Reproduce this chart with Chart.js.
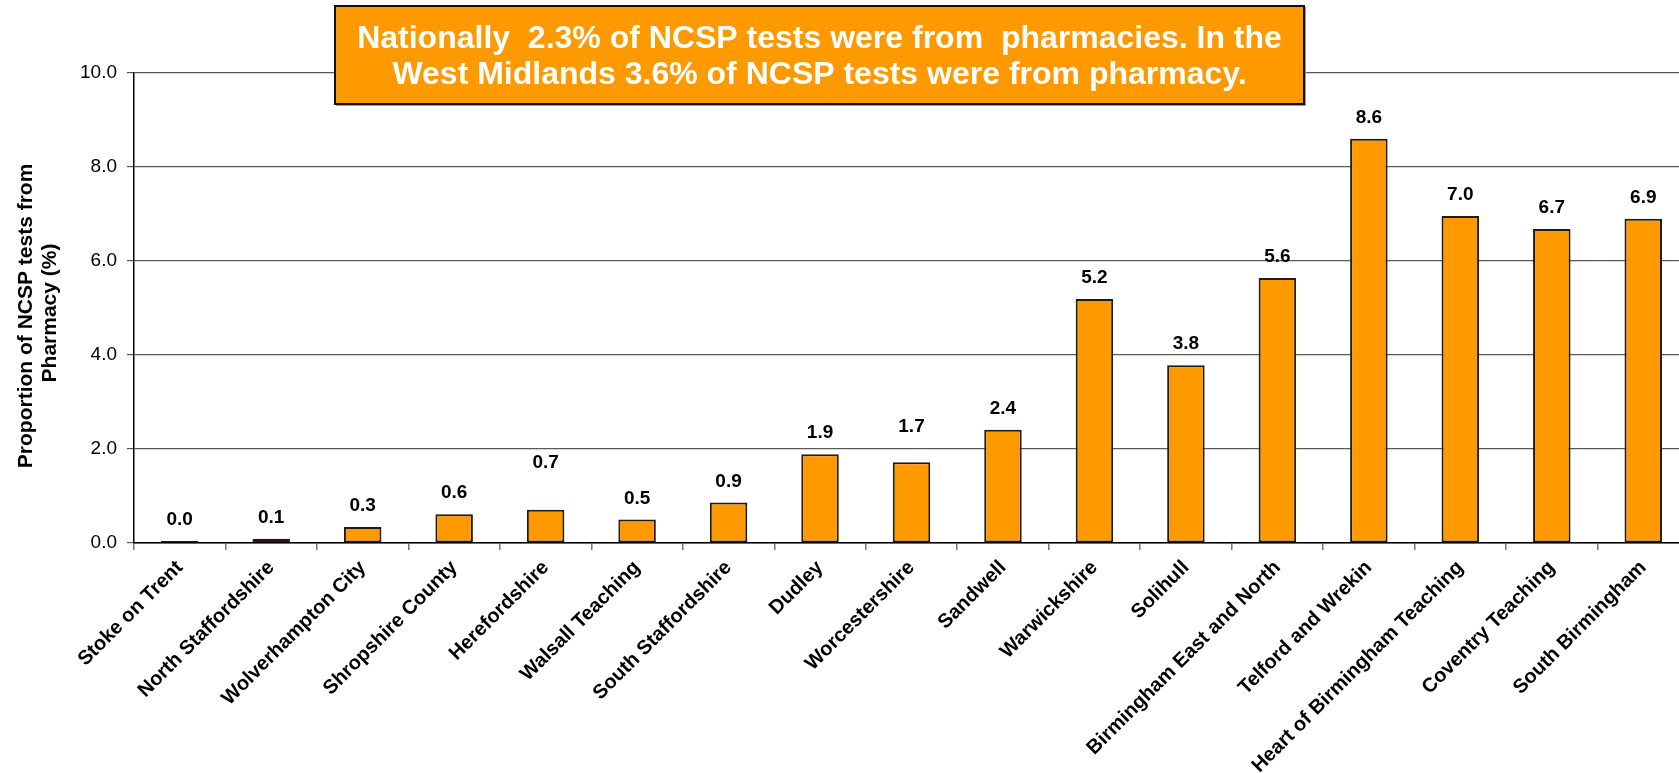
<!DOCTYPE html>
<html>
<head>
<meta charset="utf-8">
<title>NCSP tests from pharmacy</title>
<script src="https://cdn.jsdelivr.net/npm/chart.js@4.4.1/dist/chart.umd.min.js"></script>
<style>
    html, body { margin: 0; padding: 0; background: #fff; overflow: hidden; }
    /* plot runs slightly past the right edge of the window, like the original */
    #wrap { position: absolute; left: 0; top: 0; width: 1692px; height: 773px; }
</style>
</head>
<body>
<div id="wrap"><canvas id="pharmacyChart"></canvas></div>
<script>
// PCT names, ordered as in the original chart
const categories = [
    'Stoke on Trent', 'North Staffordshire', 'Wolverhampton City', 'Shropshire County',
    'Herefordshire', 'Walsall Teaching', 'South Staffordshire', 'Dudley',
    'Worcestershire', 'Sandwell', 'Warwickshire', 'Solihull',
    'Birmingham East and North', 'Telford and Wrekin', 'Heart of Birmingham Teaching',
    'Coventry Teaching', 'South Birmingham'
];

// Proportion of NCSP tests from pharmacy (%)
const pharmacyShare = [
    0.04, 0.09, 0.34, 0.61, 0.71, 0.50, 0.86, 1.89,
    1.72, 2.41, 5.19, 3.78, 5.64, 8.60, 6.96, 6.68, 6.90
];

const yTicks = [0, 2, 4, 6, 8, 10];

const yTitleLines = ['Proportion of NCSP tests from ', 'Pharmacy (%)'];

const noteLines = [
    'Nationally  2.3% of NCSP tests were from  pharmacies. In the',
    'West Midlands 3.6% of NCSP tests were from pharmacy.'
];

const FONT = "'Liberation Sans', Arial, sans-serif";
Chart.defaults.font.family = FONT;
Chart.defaults.color = '#000';

/**
 * Draws the value labels, the rotated y title and the orange note box
 */
const overlayPlugin = {
    id: 'overlay',
    afterDatasetsDraw(chart, args, opts) {
        const ctx = chart.ctx;
        const meta = chart.getDatasetMeta(0);
        ctx.save();
        ctx.font = 'bold 19px ' + FONT;
        ctx.fillStyle = '#000';
        ctx.textAlign = 'center';
        ctx.textBaseline = 'alphabetic';
        meta.data.forEach((bar, i) => {
            const lift = opts.extraLift[i] || 0;
            ctx.fillText(pharmacyShare[i].toFixed(1), bar.x, bar.y - 16 - lift);
        });
        ctx.restore();
    },
    afterDraw(chart) {
        const ctx = chart.ctx;
        ctx.save();

        // y axis title, two lines, reading bottom to top
        ctx.font = 'bold 21px ' + FONT;
        ctx.fillStyle = '#000';
        ctx.textAlign = 'center';
        ctx.textBaseline = 'alphabetic';
        yTitleLines.forEach((line, i) => {
            ctx.save();
            ctx.translate(32 + i * 23.5, 313);
            ctx.rotate(-Math.PI / 2);
            ctx.fillText(line, 0, 0);
            ctx.restore();
        });

        // note box
        const bx = 335, by = 6, bw = 969, bh = 98;
        ctx.fillStyle = '#9a9a9a';
        ctx.fillRect(bx + 1, by + 1, bw + 1, bh + 1);
        ctx.fillStyle = '#ff9900';
        ctx.fillRect(bx, by, bw, bh);
        ctx.strokeStyle = '#111';
        ctx.lineWidth = 2;
        ctx.strokeRect(bx, by, bw, bh);

        ctx.font = 'bold 32px ' + FONT;
        ctx.fillStyle = '#fff';
        ctx.textAlign = 'center';
        ctx.fillText(noteLines[0], bx + bw / 2, 47.5);
        ctx.fillText(noteLines[1], bx + bw / 2, 83.5);
        ctx.restore();
    }
};

const ctx = document.getElementById('pharmacyChart').getContext('2d');
const chart = new Chart(ctx, {
    type: 'bar',
    data: {
        labels: categories,
        datasets: [{
            label: 'Proportion of NCSP tests from Pharmacy (%)',
            data: pharmacyShare,
            backgroundColor: '#ff9900',
            borderColor: '#221a10',
            borderWidth: 2,
            borderSkipped: false,
            categoryPercentage: 1,
            barPercentage: 0.41
        }]
    },
    options: {
        responsive: true,
        maintainAspectRatio: false,
        animation: false,
        layout: {
            padding: { top: 73, right: 3, bottom: 0, left: 0 }
        },
        plugins: {
            legend: { display: false },
            tooltip: { enabled: false },
            overlay: {
                // the 0.7 and 1.7 labels sit higher in the original
                extraLift: { 4: 26, 8: 14 }
            }
        },
        scales: {
            x: {
                offset: true,
                grid: {
                    offset: true,
                    drawOnChartArea: false,
                    drawTicks: true,
                    tickLength: 7,
                    color: '#777',
                    lineWidth: 1.5
                },
                border: { color: '#000', width: 1.5 },
                ticks: {
                    autoSkip: false,
                    minRotation: 45,
                    maxRotation: 45,
                    padding: 6,
                    color: '#000',
                    font: { size: 20, weight: 'bold' }
                },
                afterFit: (scale) => { scale.height = 230; }
            },
            y: {
                min: 0,
                max: 10,
                afterBuildTicks: (scale) => {
                    scale.ticks = yTicks.map(v => ({ value: v }));
                },
                grid: {
                    color: '#5a5a5a',
                    lineWidth: 1.2,
                    tickLength: 7
                },
                border: { color: '#000', width: 1.5 },
                ticks: {
                    padding: 10,
                    color: '#000',
                    font: { size: 19 },
                    callback: (v) => Number(v).toFixed(1)
                },
                afterFit: (scale) => { scale.width = 134; }
            }
        }
    },
    plugins: [overlayPlugin]
});
</script>
</body>
</html>
